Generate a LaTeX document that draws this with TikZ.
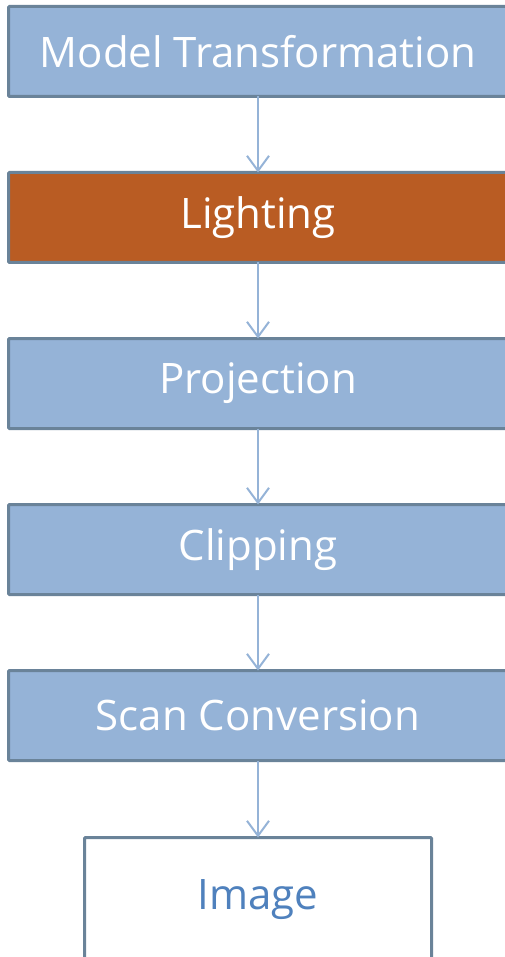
\documentclass[tikz,border=0pt]{standalone}
\usepackage{fontspec}
\setmainfont{Open Sans}
\usetikzlibrary{arrows.meta}
\definecolor{stepfill}{HTML}{95B3D7}
\definecolor{stepline}{HTML}{6A8399}
\definecolor{hotfill}{HTML}{B95C23}
\definecolor{flowline}{HTML}{95B3D7}
\definecolor{outtext}{HTML}{4F81BD}
\tikzset{
  % wide stage boxes run off the right edge; the label is pulled back to x=258
  stage/.style={draw=stepline, line width=3pt, fill=stepfill, rounded corners=1pt,
    minimum width=530pt, minimum height=90pt, inner sep=0pt, outer sep=0pt,
    anchor=west, text=white, font=\fontsize{42}{46}\selectfont,
    execute at begin node=\hspace*{-31pt}},
  hotstage/.style={stage, fill=hotfill},
  result/.style={draw=stepline, line width=3pt, fill=white, rounded corners=1pt,
    minimum width=347pt, minimum height=124pt, inner sep=0pt, outer sep=0pt,
    text=outtext, font=\fontsize{42}{46}\selectfont},
  flow/.style={draw=flowline, line width=2pt, -{Straight Barb[length=15pt, width=22pt, line width=2pt]}}
}
\begin{document}
\begin{tikzpicture}[x=1pt, y=-1pt]
  \useasboundingbox (0,0) rectangle (504,957);
  \node[stage]    (model) at (8.5, 51.5)  {Model Transformation};
  \node[hotstage] (light) at (8.5, 217.5) {Lighting};
  \node[stage]    (proj)  at (8.5, 383.5) {Projection};
  \node[stage]    (clip)  at (8.5, 549.5) {Clipping};
  \node[stage]    (scan)  at (8.5, 715.5) {Scan Conversion};
  \node[result]   (img)   at (258, 899.5) {Image};
  \foreach \a/\b in {model/light, light/proj, proj/clip, clip/scan}
    \draw[flow] ([xshift=-15.5pt]\a.south) -- ([xshift=-15.5pt]\b.north);
  \draw[flow] ([xshift=-15.5pt]scan.south) -- (img.north);
\end{tikzpicture}
\end{document}
